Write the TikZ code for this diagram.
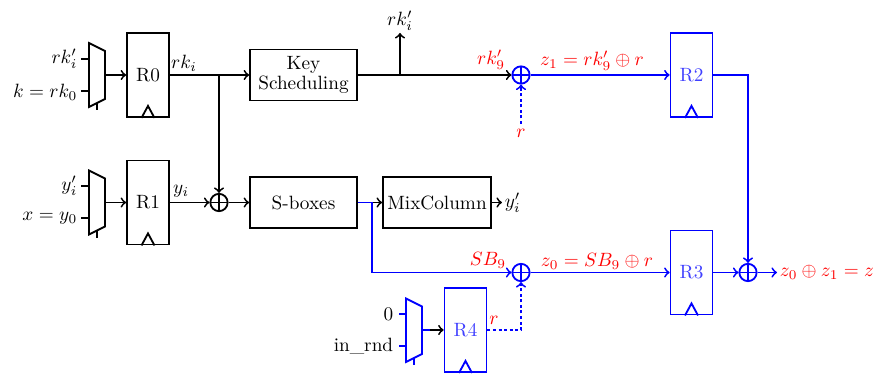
\documentclass[tikz,border=0pt]{standalone}
\usetikzlibrary{calc}
\begin{document}
\begin{tikzpicture}[x=0.52pt,y=-0.52pt,line width=0.95pt,>=to,
  reg/.style={draw,minimum width=21.8pt,minimum height=43.7pt,inner sep=0pt},
  fbox/.style={draw,minimum width=55.6pt,minimum height=26.5pt,align=center,inner sep=1pt},
  xor/.style={circle,draw,minimum size=9pt,inner sep=0pt,
    path picture={\draw (path picture bounding box.north)--(path picture bounding box.south)
      (path picture bounding box.west)--(path picture bounding box.east);}},
  lbl/.style={inner sep=1pt},
  rlbl/.style={inner sep=1pt,text=red},
  dotline/.style={dash pattern=on 1.6pt off 1.3pt}]
\useasboundingbox (0,0) rectangle (879,375);

% registers and boxes
\node[reg] (r0) at (148,75) {R0};
\node[reg] (r1) at (148,202.5) {R1};
\node[fbox] (ks) at (303.5,75) {Key\\[-1.5pt]Scheduling};
\node[fbox] (sb) at (303.5,202.5) {S-boxes};
\node[fbox,minimum width=56.2pt] (mc) at (437,202.5) {MixColumn};
\node[xor] (x0) at (219,202.5) {};
\node[xor,blue] (x1) at (521,75) {};
\node[xor,blue] (x2) at (521,272.5) {};
\node[xor,blue] (x3) at (748,272.5) {};
\node[reg,blue,text=blue!75] (r2) at (691.5,75) {R2};
\node[reg,blue,text=blue!75] (r3) at (691.5,272.5) {R3};
\node[reg,blue,text=blue!75] (r4) at (465.5,330) {R4};

% clock triangles
\foreach \r in {r0,r1}
  \draw ($(\r.south)+(-6.5,0)$) -- ($(\r.south)+(0,-12)$) -- ($(\r.south)+(6.5,0)$);
\foreach \r in {r2,r3,r4}
  \draw[blue] ($(\r.south)+(-6.5,0)$) -- ($(\r.south)+(0,-12)$) -- ($(\r.south)+(6.5,0)$);

% mux 0
\draw (89,43) -- (105,51) -- (105,99) -- (89,107) -- cycle;
\draw (81,59) -- (89,59) (81,91) -- (89,91) (97,103) -- (97,110);
\coordinate (m0) at (105,75);
\node[lbl,anchor=east] (l0a) at (80,59) {$rk_i'$};
\node[lbl,anchor=east] (l0b) at (80,92) {$k=rk_0$};
\draw[->] (m0) -- (r0.west);

% mux 1
\draw (89,170.5) -- (105,178.5) -- (105,226.5) -- (89,234.5) -- cycle;
\draw (81,186) -- (89,186) (81,218) -- (89,218) (97,231) -- (97,238);
\coordinate (m1) at (105,202.5);
\node[lbl,anchor=east] (l1a) at (80,186) {$y_i'$};
\node[lbl,anchor=east] (l1b) at (80,218) {$x=y_0$};
\draw[->] (m1) -- (r1.west);

% mux 4
\draw[blue] (406,298.5) -- (422,306.5) -- (422,354) -- (406,362) -- cycle;
\draw[blue] (399,314) -- (406,314) (399,346) -- (406,346) (414,358) -- (414,365);
\coordinate (m4) at (422,330);
\coordinate (m4s) at (430,330);
\node[lbl,anchor=east] (l4a) at (396,314) {0};
\node[lbl,anchor=east] (l4b) at (396,346) {in\_rnd};
\draw[blue] (m4) -- (m4s);
\draw[->] (m4s) -- (r4.west);

% black datapath
\coordinate (j0) at (219,75);
\coordinate (j1) at (400,75);
\coordinate (kt) at (400,33);
\draw[->] (r0.east) -- (ks.west);
\draw[->] (j0) -- (x0.north);
\draw[->] (r1.east) -- (x0.west);
\draw[->] (x0.east) -- (sb.west);
\draw[->] (sb.east) -- (mc.west);
\draw[->] (mc.east) -- ++(10,0) coordinate (yo);
\node[lbl,anchor=west] (yol) at (yo) {$y_i'$};
\draw[->] (ks.east) -- (x1.west);
\draw[->] (j1) -- (kt);
\node[lbl,anchor=south] (ktl) at (kt) {$rk_i'$};
\node[lbl] (rkl) at (184,63) {$rk_i$};
\node[lbl] (yil) at (181,191) {$y_i$};

% blue datapath
\coordinate (j2) at (372,202.5);
\draw[blue] (sb.east) -- (j2);
\draw[blue,->] (j2) |- (x2.west);
\draw[blue,->] (x1.east) -- (r2.west);
\draw[blue,->] (x2.east) -- (r3.west);
\draw[blue,->] (r2.east) -| (x3.north);
\draw[blue,->] (r3.east) -- (x3.west);
\draw[blue,->] (x3.east) -- (777,272.5) coordinate (zo);
\node[rlbl,anchor=west] (zol) at (zo) {$z_0\oplus z_1=z$};

% mask r
\coordinate (rin) at (521,124);
\draw[blue,dotline,->] (rin) -- (x1.south);
\node[rlbl] (rl1) at (521,133) {$r$};
\draw[blue,dotline,->] (r4.east) -| (x2.south);
\node[rlbl] (rl2) at (494,320) {$r$};

% red labels
\node[rlbl] (l9) at (491,60) {$rk_9'$};
\node[rlbl] (z1l) at (592,61) {$z_1=rk_9'\oplus r$};
\node[rlbl] (sbl) at (488,260) {$SB_9$};
\node[rlbl] (z0l) at (597,261) {$z_0=SB_9\oplus r$};
\end{tikzpicture}
\end{document}
